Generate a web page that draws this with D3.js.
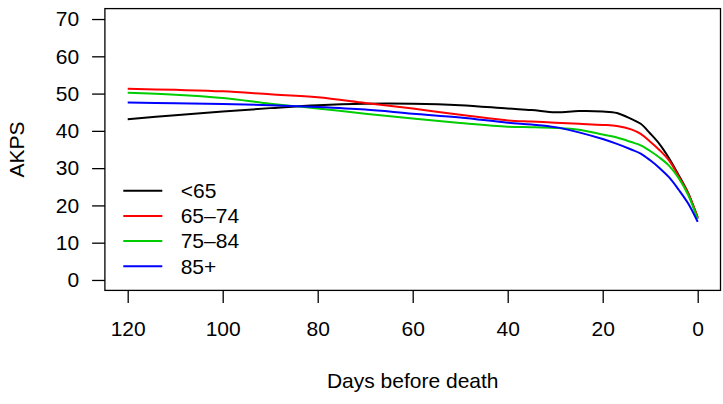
<!DOCTYPE html>
<html>
<head>
<meta charset="utf-8">
<script src="https://cdn.jsdelivr.net/npm/d3@7"></script>
<style>
  body { margin: 0; background: #fff; }
  text { font-family: "Liberation Sans", Arial, Helvetica, sans-serif; font-size: 21px; fill: #000; }
</style>
</head>
<body>
<div id="chart"></div>
<script>
// Chart data
var days = [120, 110, 100, 90, 80, 70, 60, 50, 40, 35, 30, 25, 20, 17, 14, 12, 10, 8, 6, 4, 2, 0];
var groups = ["<65", "65\u201374", "75\u201384", "85+"];
var colors = ["#000000", "#FF0000", "#00CD00", "#0000FF"];
var under65 = [43.1, 44.2, 45.2, 46.1, 46.9, 47.3, 47.3, 46.9, 46.0, 45.6, 45.0, 45.3, 45.2, 44.8, 43.2, 41.9, 39.3, 36.4, 32.6, 28.1, 23.3, 16.6];
var age65to74 = [51.3, 51.0, 50.6, 49.8, 49.0, 47.5, 46.0, 44.3, 42.8, 42.5, 42.2, 41.9, 41.6, 41.3, 40.4, 39.2, 37.1, 34.8, 32.0, 27.8, 23.2, 16.8];
var age75to84 = [50.2, 49.7, 48.8, 47.3, 46.0, 44.6, 43.3, 42.1, 41.1, 41.0, 40.8, 40.3, 39.0, 38.2, 37.0, 36.1, 34.6, 32.8, 30.6, 27.3, 22.8, 16.3];
var age85plus = [47.6, 47.4, 47.2, 46.9, 46.4, 45.7, 44.6, 43.6, 42.2, 41.7, 41.0, 39.6, 37.8, 36.5, 35.0, 33.9, 32.1, 30.0, 27.5, 24.2, 20.5, 15.6];
var xTicks = [120, 100, 80, 60, 40, 20, 0];
var yTicks = [0, 10, 20, 30, 40, 50, 60, 70];

var seriesValues = [under65, age65to74, age75to84, age85plus];

// Chart params
var svgWidth = 723;
var svgHeight = 404;
var plot = { left: 104.9, right: 720.5, top: 8.6, bottom: 290.4 };

var svg = d3.select("#chart")
    .append("svg")
    .attr("width", svgWidth)
    .attr("height", svgHeight);

// R style 4% axis expansion
var xPad = 120 * 0.04;
var yPad = 70 * 0.04;

var x = d3.scaleLinear()
    .domain([120 + xPad, 0 - xPad])
    .range([plot.left, plot.right]);

var y = d3.scaleLinear()
    .domain([0 - yPad, 70 + yPad])
    .range([plot.bottom, plot.top]);

// Axes
var bottomAxis = d3.axisBottom(x).tickValues(xTicks).tickSize(12.6).tickPadding(18.5);
var leftAxis = d3.axisLeft(y).tickValues(yTicks).tickSize(12.8).tickPadding(13);

var xg = svg.append("g")
    .attr("transform", `translate(0, ${plot.bottom})`)
    .call(bottomAxis);
var yg = svg.append("g")
    .attr("transform", `translate(${plot.left}, 0)`)
    .call(leftAxis);

[xg, yg].forEach(function(g) {
    g.attr("font-size", null).attr("font-family", null);
    g.select(".domain").remove();
    g.selectAll(".tick line").attr("stroke", "#000").attr("stroke-width", 1.3);
    g.selectAll(".tick text").style("font-size", "21px");
});

// Box
svg.append("rect")
    .attr("x", plot.left)
    .attr("y", plot.top)
    .attr("width", plot.right - plot.left)
    .attr("height", plot.bottom - plot.top)
    .attr("fill", "none")
    .attr("stroke", "#000")
    .attr("stroke-width", 1.3);

// Lines
var line = d3.line()
    .x(function(d) { return x(d[0]); })
    .y(function(d) { return y(d[1]); })
    .curve(d3.curveCatmullRom.alpha(0.5));

seriesValues.forEach(function(vals, i) {
    var pts = days.map(function(d, j) { return [d, vals[j]]; });
    svg.append("path")
        .datum(pts)
        .attr("d", line)
        .attr("fill", "none")
        .attr("stroke", colors[i])
        .attr("stroke-width", 2);
});

// Legend
var legend = svg.append("g");
groups.forEach(function(name, i) {
    var ly = 190.7 + i * 25.2;
    legend.append("line")
        .attr("x1", 123.3).attr("x2", 162.3)
        .attr("y1", ly).attr("y2", ly)
        .attr("stroke", colors[i])
        .attr("stroke-width", 2);
    legend.append("text")
        .attr("x", 180.7)
        .attr("y", ly + 7.3)
        .text(name);
});

// Axis titles
svg.append("text")
    .attr("x", (plot.left + plot.right) / 2)
    .attr("y", 388.3)
    .attr("text-anchor", "middle")
    .text("Days before death");

svg.append("text")
    .attr("transform", "rotate(-90)")
    .attr("x", -(plot.top + plot.bottom) / 2)
    .attr("y", 24)
    .attr("text-anchor", "middle")
    .text("AKPS");
</script>
</body>
</html>
